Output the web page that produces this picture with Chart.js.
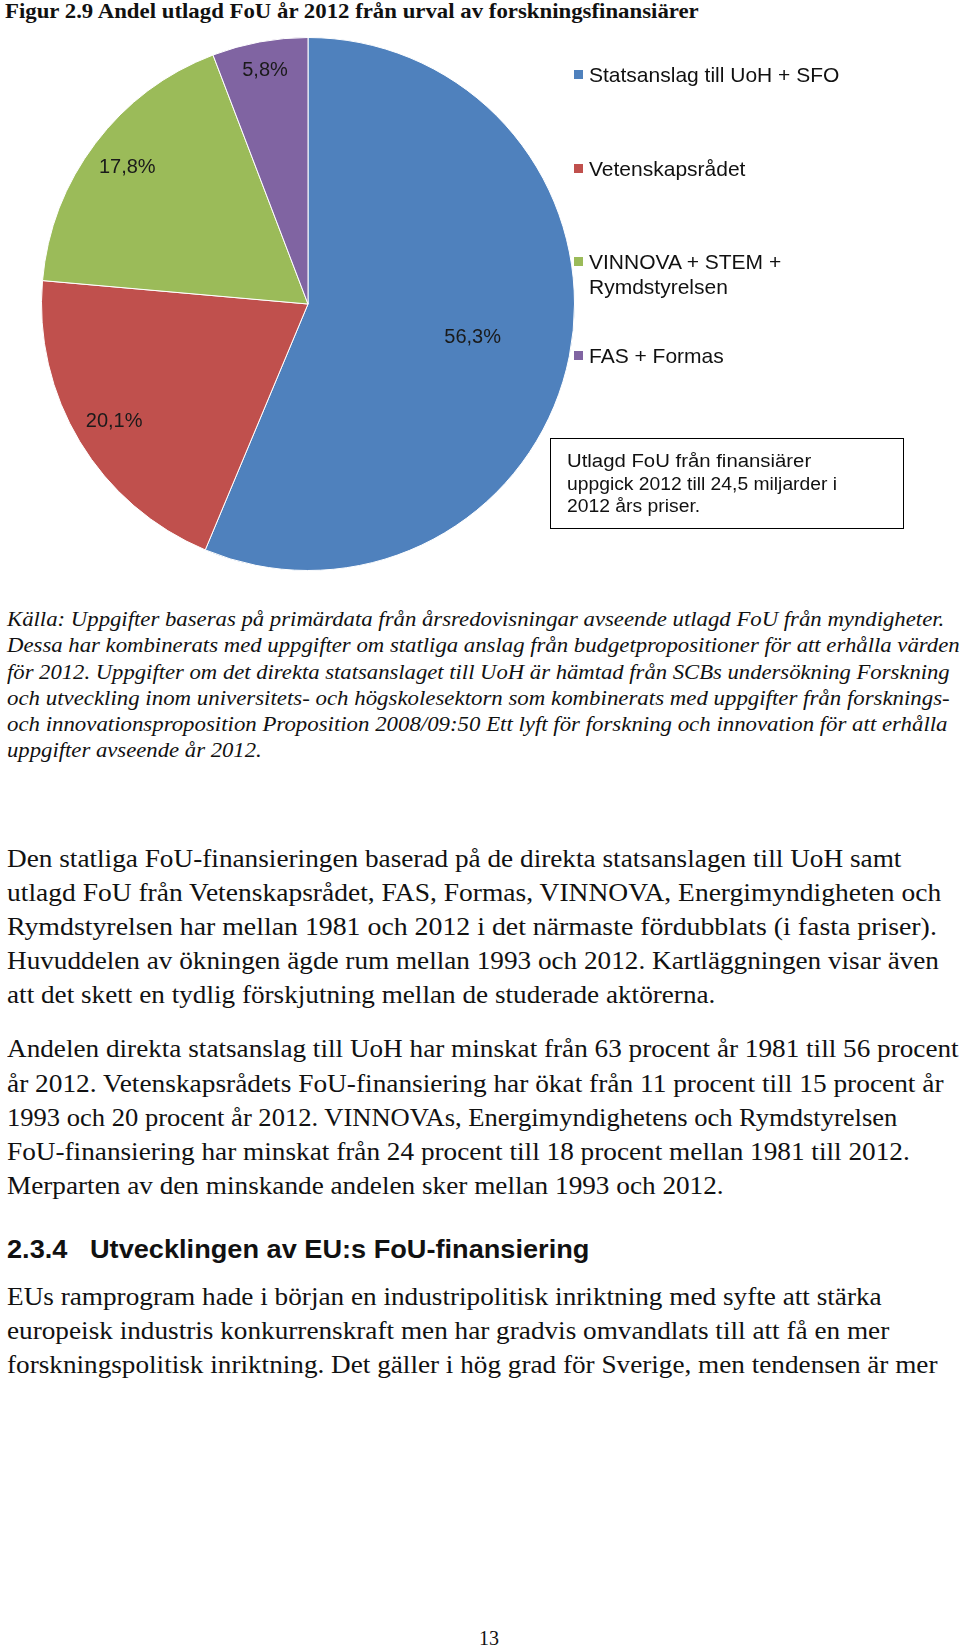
<!DOCTYPE html>
<html>
<head>
<meta charset="utf-8">
<script src="https://cdn.jsdelivr.net/npm/chart.js@4/dist/chart.umd.min.js"></script>
<style>
  html, body { margin: 0; padding: 0; background: #fff; }
  body { width: 960px; height: 1649px; position: relative; overflow: hidden; color: #111; }
  .ln { position: absolute; left: 7px; white-space: pre; transform-origin: 0 50%; line-height: 1; }
  .serif { font-family: "Liberation Serif", "Times New Roman", Times, serif; }
  .sans { font-family: "Liberation Sans", Arial, sans-serif; }
  #chartWrap { position: absolute; left: 41px; top: 37px; width: 534px; height: 534px; }
  .lg { position: absolute; left: 589px; font: 21px "Liberation Sans", Arial, sans-serif; color: #111; white-space: nowrap; line-height: 25px; transform-origin: 0 50%; }
  .sw { position: absolute; left: 574px; width: 9px; height: 9px; }
  #note { position: absolute; left: 550px; top: 438px; width: 354px; height: 91px; border: 1.5px solid #000; box-sizing: border-box; }
  .nt { position: absolute; left: 567px; font: 18px "Liberation Sans", Arial, sans-serif; white-space: nowrap; transform-origin: 0 50%; line-height: 1; }
</style>
</head>
<body>
<div class="ln serif" style="top:1px;left:5px;font-weight:bold;font-size:21px" data-w="694">Figur 2.9 Andel utlagd FoU år 2012 från urval av forskningsfinansiärer</div>

<div id="chartWrap"><canvas id="pie_chart"></canvas></div>
<div id="note"></div>
<div class="nt" style="top:452px" data-w="244">Utlagd FoU från finansiärer</div>
<div class="nt" style="top:475px" data-w="270">uppgick 2012 till 24,5 miljarder i</div>
<div class="nt" style="top:497px" data-w="133">2012 års priser.</div>

<script>
// pie data
const categories = ['Statsanslag till UoH + SFO', 'Vetenskapsrådet', 'VINNOVA + STEM + Rymdstyrelsen', 'FAS + Formas'];
const legend_lines = [['Statsanslag till UoH + SFO'], ['Vetenskapsrådet'], ['VINNOVA + STEM +', 'Rymdstyrelsen'], ['FAS + Formas']];
const shares = [56.3, 20.1, 17.8, 5.8];
const colors = ['#4F81BD', '#C0504D', '#9BBB59', '#8064A2'];

// page text around the figure
const source_lines = [
    'Källa: Uppgifter baseras på primärdata från årsredovisningar avseende utlagd FoU från myndigheter.',
    'Dessa har kombinerats med uppgifter om statliga anslag från budgetpropositioner för att erhålla värden',
    'för 2012. Uppgifter om det direkta statsanslaget till UoH är hämtad från SCBs undersökning Forskning',
    'och utveckling inom universitets- och högskolesektorn som kombinerats med uppgifter från forsknings-',
    'och innovationsproposition Proposition 2008/09:50 Ett lyft för forskning och innovation för att erhålla',
    'uppgifter avseende år 2012.'
];
const para1 = [
    'Den statliga FoU-finansieringen baserad på de direkta statsanslagen till UoH samt',
    'utlagd FoU från Vetenskapsrådet, FAS, Formas, VINNOVA, Energimyndigheten och',
    'Rymdstyrelsen har mellan 1981 och 2012 i det närmaste fördubblats (i fasta priser).',
    'Huvuddelen av ökningen ägde rum mellan 1993 och 2012. Kartläggningen visar även',
    'att det skett en tydlig förskjutning mellan de studerade aktörerna.'
];
const para2 = [
    'Andelen direkta statsanslag till UoH har minskat från 63 procent år 1981 till 56 procent',
    'år 2012. Vetenskapsrådets FoU-finansiering har ökat från 11 procent till 15 procent år',
    '1993 och 20 procent år 2012. VINNOVAs, Energimyndighetens och Rymdstyrelsen',
    'FoU-finansiering har minskat från 24 procent till 18 procent mellan 1981 till 2012.',
    'Merparten av den minskande andelen sker mellan 1993 och 2012.'
];
const heading = '2.3.4   Utvecklingen av EU:s FoU-finansiering';
const para3 = [
    'EUs ramprogram hade i början en industripolitisk inriktning med syfte att stärka',
    'europeisk industris konkurrenskraft men har gradvis omvandlats till att få en mer',
    'forskningspolitisk inriktning. Det gäller i hög grad för Sverige, men tendensen är mer'
];
const page_no = '13';

function addLine(text, cls, style, w) {
    var d = document.createElement('div');
    d.className = 'ln ' + cls;
    d.setAttribute('style', style);
    if (w) d.setAttribute('data-w', w);
    d.textContent = text;
    document.body.appendChild(d);
    return d;
}

// source note, italic
var srcW = [937, 952, 942, 942, 940, 255];
source_lines.forEach(function(t, i) {
    addLine(t, 'serif', 'top:' + (608.3 + i * 26.1) + 'px;font-style:italic;font-size:22px', srcW[i]);
});

var p1W = [894, 934, 930, 932, 708];
para1.forEach(function(t, i) {
    addLine(t, 'serif', 'top:' + (846 + i * 34.05) + 'px;font-size:26px', p1W[i]);
});
var p2W = [952, 936, 890, 902, 716];
para2.forEach(function(t, i) {
    addLine(t, 'serif', 'top:' + (1036.4 + i * 34.2) + 'px;font-size:26px', p2W[i]);
});
addLine(heading, 'sans', 'top:1236.7px;font-weight:bold;font-size:25px', 582);
var p3W = [874, 883, 931];
para3.forEach(function(t, i) {
    addLine(t, 'serif', 'top:' + (1283.5 + i * 34.3) + 'px;font-size:26px', p3W[i]);
});
addLine(page_no, 'serif', 'top:1628px;left:479px;font-size:20px', 0);

// legend
var lgTop = [62, 156, 249, 343];
legend_lines.forEach(function(lines, i) {
    var sw = document.createElement('div');
    sw.className = 'sw';
    sw.style.top = (lgTop[i] + 8) + 'px';
    sw.style.background = colors[i];
    document.body.appendChild(sw);
    lines.forEach(function(t, j) {
        var d = document.createElement('div');
        d.className = 'lg';
        d.style.top = (lgTop[i] + j * 25) + 'px';
        d.textContent = t;
        document.body.appendChild(d);
    });
});

// squeeze each text line to the width it has in the scanned page
document.querySelectorAll('[data-w]').forEach(function(el) {
    var w = +el.getAttribute('data-w');
    if (!w) return;
    var s = w / el.scrollWidth;
    el.style.transform = 'scaleX(' + s.toFixed(3) + ')';
});

// percentage labels placed along each slice's middle angle
var labelRadius = [0.63, 0.85, 0.85, 0.89];
const sliceLabels = {
    id: 'sliceLabels',
    afterDatasetsDraw(chart) {
        var ctx = chart.ctx;
        var meta = chart.getDatasetMeta(0);
        ctx.save();
        ctx.font = '20px "Liberation Sans", Arial, sans-serif';
        ctx.fillStyle = '#1a1a1a';
        ctx.textAlign = 'center';
        ctx.textBaseline = 'middle';
        meta.data.forEach(function(arc, i) {
            var p = arc.getProps(['x', 'y', 'startAngle', 'endAngle', 'outerRadius'], true);
            var a = (p.startAngle + p.endAngle) / 2;
            var r = p.outerRadius * labelRadius[i];
            var txt = shares[i].toFixed(1).replace('.', ',') + '%';
            ctx.fillText(txt, p.x + Math.cos(a) * r, p.y + Math.sin(a) * r);
        });
        ctx.restore();
    }
};

const pie_ctx = document.getElementById('pie_chart').getContext('2d');
const pie_chart = new Chart(pie_ctx, {
    type: 'pie',
    data: {
        labels: categories,
        datasets: [{
            data: shares,
            backgroundColor: colors,
            borderColor: '#ffffff',
            borderWidth: 1,
            hoverOffset: 0
        }]
    },
    options: {
        responsive: true,
        maintainAspectRatio: false,
        animation: false,
        layout: { padding: 0 },
        plugins: {
            legend: { display: false },
            tooltip: { enabled: false }
        }
    },
    plugins: [sliceLabels]
});
</script>
</body>
</html>
